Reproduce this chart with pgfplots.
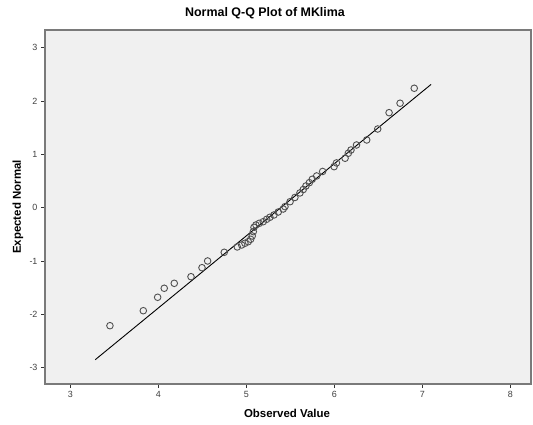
\documentclass[border=0pt]{standalone}
\usepackage{pgfplots}
\pgfplotsset{compat=1.18}
\usepackage{fontspec}
\setmainfont{Liberation Sans}
\definecolor{bg}{HTML}{F0F0F0}
\definecolor{framec}{HTML}{7A7A7A}
\definecolor{ptc}{HTML}{505050}
\begin{document}
\begin{tikzpicture}[x=1bp,y=1bp]
\useasboundingbox (0,0) rectangle (533,424);
\begin{axis}[
  at={(45bp,40bp)}, anchor=south west,
  scale only axis, width=486bp, height=354bp,
  xmin=2.713, xmax=8.236, ymin=-3.306, ymax=3.335,
  axis background/.style={fill=bg},
  axis line style={draw=framec, line width=1.3bp},
  tick align=outside, xtick pos=bottom, ytick pos=left,
  major tick length=4bp,
  every tick/.style={draw=black!80, line width=0.8bp},
  xtick={3,4,5,6,7,8}, xticklabels={3,4,5,6,7,8},
  ytick={-3,-2,-1,0,1,2,3}, yticklabels={-3,-2,-1,0,1,2,3},
  tick label style={font=\fontsize{9}{10}\selectfont, text=black!75},
  clip=false,
]
\addplot[black, line width=0.9bp] coordinates {(3.284,-2.85) (7.10,2.314)};
\addplot[only marks, mark=o, mark size=3.3bp, mark options={draw=ptc, line width=0.9bp}] coordinates {
(3.451,-2.212) (3.830,-1.931) (3.993,-1.679) (4.068,-1.510) (4.182,-1.417)
(4.372,-1.293) (4.497,-1.124) (4.561,-0.998) (4.750,-0.835) (4.898,-0.735)
(4.948,-0.698) (4.985,-0.666) (5.023,-0.636) (5.050,-0.591) (5.068,-0.529)
(5.080,-0.448) (5.088,-0.366) (5.110,-0.323) (5.148,-0.291) (5.193,-0.261)
(5.232,-0.216) (5.269,-0.178) (5.315,-0.135) (5.364,-0.079) (5.420,-0.023)
(5.440,0.021) (5.498,0.114) (5.553,0.193) (5.610,0.278) (5.648,0.343)
(5.678,0.409) (5.717,0.471) (5.750,0.535) (5.800,0.597) (5.868,0.681)
(5.998,0.771) (6.025,0.841) (6.123,0.929) (6.160,1.023) (6.190,1.084)
(6.253,1.178) (6.369,1.272) (6.494,1.478) (6.623,1.784) (6.748,1.961)
(6.909,2.242)
};
\end{axis}
\node[font=\fontsize{12.5}{14}\selectfont\bfseries] at (265,411) {Normal Q-Q Plot of MKlima};
\node[font=\fontsize{11.5}{13}\selectfont\bfseries] at (287,11) {Observed Value};
\node[font=\fontsize{11.5}{13}\selectfont\bfseries, rotate=90] at (18,217) {Expected Normal};
\end{tikzpicture}
\end{document}
